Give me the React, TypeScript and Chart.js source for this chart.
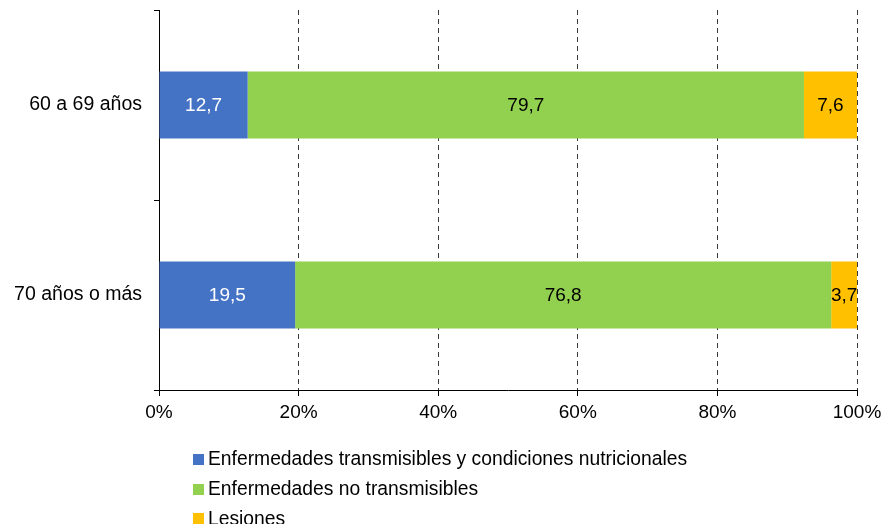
import React, { useEffect, useRef } from "react";
import { Chart, registerables } from "chart.js";

Chart.register(...registerables);

// Age groups (y axis categories)
const categories = ["60 a 69 años", "70 años o más"];

// Share of each cause group, in percent
const seriesNames = [
  "Enfermedades transmisibles y condiciones nutricionales",
  "Enfermedades no transmisibles",
  "Lesiones",
];
const transmisibles = [12.7, 19.5];
const noTransmisibles = [79.7, 76.8];
const lesiones = [7.6, 3.7];

const seriesColors = ["#4472C4", "#92D050", "#FFC000"];
const labelColors = ["#FFFFFF", "#000000", "#000000"];

// x axis tick values (percent)
const xTicks = [0, 20, 40, 60, 80, 100];

const FONT = "'Liberation Sans', Arial, Helvetica, sans-serif";

const fmt = (v: number) => v.toFixed(1).replace(".", ",");

// Writes each segment's value centred inside its bar piece
const valueLabels = {
  id: "valueLabels",
  afterDatasetsDraw(chart: any) {
    const ctx = chart.ctx;
    ctx.save();
    ctx.font = `19px ${FONT}`;
    ctx.textAlign = "center";
    ctx.textBaseline = "middle";
    chart.data.datasets.forEach((ds: any, di: number) => {
      const meta = chart.getDatasetMeta(di);
      meta.data.forEach((bar: any, i: number) => {
        const { x, y, base } = bar.getProps(["x", "y", "base"], true);
        ctx.fillStyle = labelColors[di];
        ctx.fillText(fmt(ds.data[i]), (x + base) / 2, y + 1);
      });
    });
    ctx.restore();
  },
};

// Vertical legend list under the axis
const stackedLegend = {
  id: "stackedLegend",
  afterDraw(chart: any) {
    const ctx = chart.ctx;
    const left = 193;
    const rowY = [459, 489, 518.5];
    const box = 11;
    ctx.save();
    ctx.font = `19.3px ${FONT}`;
    ctx.textAlign = "left";
    ctx.textBaseline = "middle";
    chart.data.datasets.forEach((ds: any, i: number) => {
      const cy = rowY[i];
      ctx.fillStyle = ds.backgroundColor;
      ctx.fillRect(left, Math.round(cy - box / 2), box, box);
      ctx.fillStyle = "#000000";
      ctx.fillText(ds.label, left + 15, cy + 1);
    });
    ctx.restore();
  },
};

export default function App() {
  const ref = useRef<HTMLCanvasElement | null>(null);

  useEffect(() => {
    if (!ref.current) return;
    const values = [transmisibles, noTransmisibles, lesiones];
    const chart = new Chart(ref.current, {
      type: "bar",
      data: {
        labels: categories,
        datasets: seriesNames.map((name, i) => ({
          label: name,
          data: values[i],
          backgroundColor: seriesColors[i],
          borderWidth: 0,
          barPercentage: 0.352,
          categoryPercentage: 1,
        })),
      },
      options: {
        indexAxis: "y",
        responsive: false,
        animation: false,
        events: [],
        layout: { padding: { left: 0, right: 25, top: 10, bottom: 100 } },
        plugins: {
          legend: { display: false },
          tooltip: { enabled: false },
        },
        scales: {
          x: {
            type: "linear",
            stacked: true,
            min: 0,
            max: 100,
            afterBuildTicks: (scale: any) => {
              scale.ticks = xTicks.map((v) => ({ value: v }));
            },
            afterFit: (scale: any) => {
              scale.height = 34;
              scale.paddingLeft = 0;
              scale.paddingRight = 0;
            },
            ticks: {
              color: "#000000",
              font: { family: FONT, size: 19 },
              padding: 5,
              callback: (v: any) => `${v}%`,
            },
            grid: {
              color: "#3a3a3a",
              lineWidth: 1,
              drawTicks: true,
              tickLength: 6,
              tickColor: "#000000",
            },
            border: { display: true, color: "#000000", width: 1, dash: [5, 4] },
          },
          y: {
            type: "category",
            stacked: true,
            afterFit: (scale: any) => {
              scale.width = 159;
              scale.paddingTop = 0;
              scale.paddingBottom = 0;
            },
            ticks: {
              color: "#000000",
              font: { family: FONT, size: 19.5 },
              padding: 12,
            },
            grid: {
              offset: true,
              drawOnChartArea: false,
              drawTicks: true,
              tickLength: 5,
              color: "#000000",
              tickColor: "#000000",
            },
            border: { display: true, color: "#000000", width: 1 },
          },
        },
      },
      plugins: [valueLabels, stackedLegend],
    } as any);
    return () => chart.destroy();
  }, []);

  return (
    <div style={{ position: "absolute", left: 0, top: 0, width: 882, height: 524, background: "#fff" }}>
      <canvas ref={ref} width={882} height={524} style={{ display: "block" }} />
    </div>
  );
}
